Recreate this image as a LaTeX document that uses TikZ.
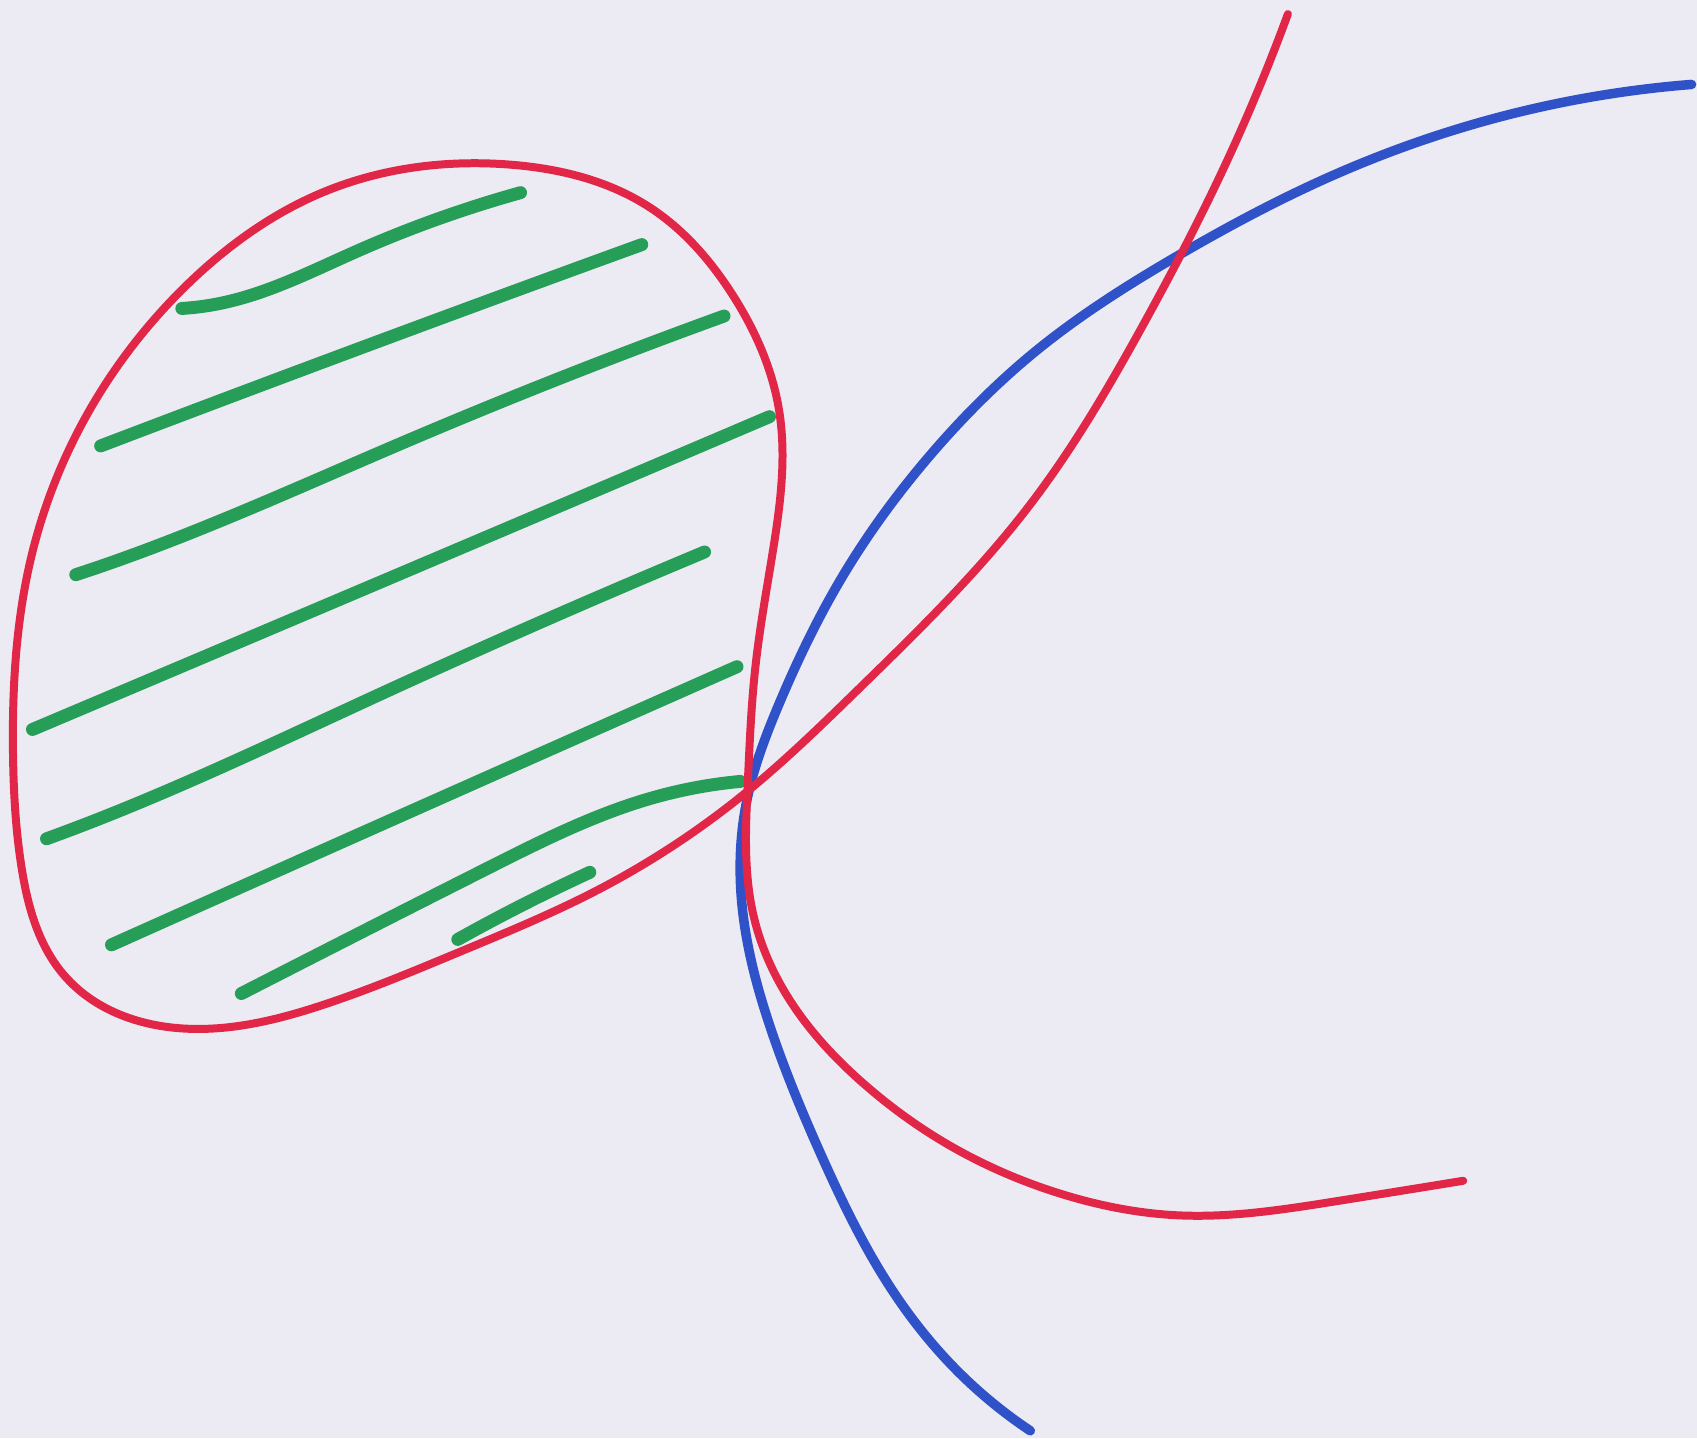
\documentclass[tikz,border=0pt]{standalone}
\usetikzlibrary{hobby}
\definecolor{paper}{RGB}{236,234,243}
\definecolor{pred}{RGB}{226,38,72}
\definecolor{pblue}{RGB}{48,82,200}
\definecolor{pgreen}{RGB}{38,158,88}
\tikzset{
  redline/.style={draw=pred, line width=2.1pt, line cap=round, line join=round, use Hobby shortcut},
  blueline/.style={draw=pblue, line width=2.5pt, line cap=round, line join=round, use Hobby shortcut},
  greenline/.style={draw=pgreen, line width=3.4pt, line cap=round, line join=round, use Hobby shortcut},
}
\begin{document}
\begin{tikzpicture}[x=0.01cm, y=-0.01cm]
\fill[paper] (0,0) rectangle (1568,1329);
\useasboundingbox (0,0) rectangle (1568,1329);
% green hatching
\draw[greenline] (168,285) .. (205,280) .. (330,232) .. (481,178);
\draw[greenline] (93,412) .. (340,319) .. (593,226);
\draw[greenline] (70,531) .. (88,525) .. (370,410) .. (669,292);
\draw[greenline] (30,674) .. (370,530) .. (711,385);
\draw[greenline] (43,775) .. (62,768) .. (350,642) .. (651,510);
\draw[greenline] (103,873) .. (390,745) .. (681,616);
\draw[greenline] (223,918) .. (451,802) .. (600,738) .. (684,722);
\draw[greenline] (423,868) .. (485,835) .. (545,806);
% blue curve
\draw[blueline] (1563,78) .. (1410,102) .. (1234,161) .. (1087,237) .. (960,322) .. (860,420) .. (780,530) .. (720,650) .. (690,740) .. (686,840) .. (712,950) .. (760,1070) .. (823,1190) .. (880,1262) .. (952,1322);
% red curve
\draw[redline] (1190,13) .. (1128,161) .. (1058,297) .. (952,466) .. (794,636) .. (692,730) .. (551,823) .. (426,879) .. (300,928) .. (165,950) .. (60,902) .. (20,802) .. (12,695) .. (30,510) .. (75,393) .. (175,261) .. (300,177) .. (470,152) .. (601,192) .. (676,271) .. (720,380) .. (714,510) .. (698,616) .. (691,722) .. (696,845) .. (735,932) .. (800,1003) .. (870,1054) .. (980,1103) .. (1090,1123) .. (1234,1110) .. (1352,1091);
\end{tikzpicture}
\end{document}
